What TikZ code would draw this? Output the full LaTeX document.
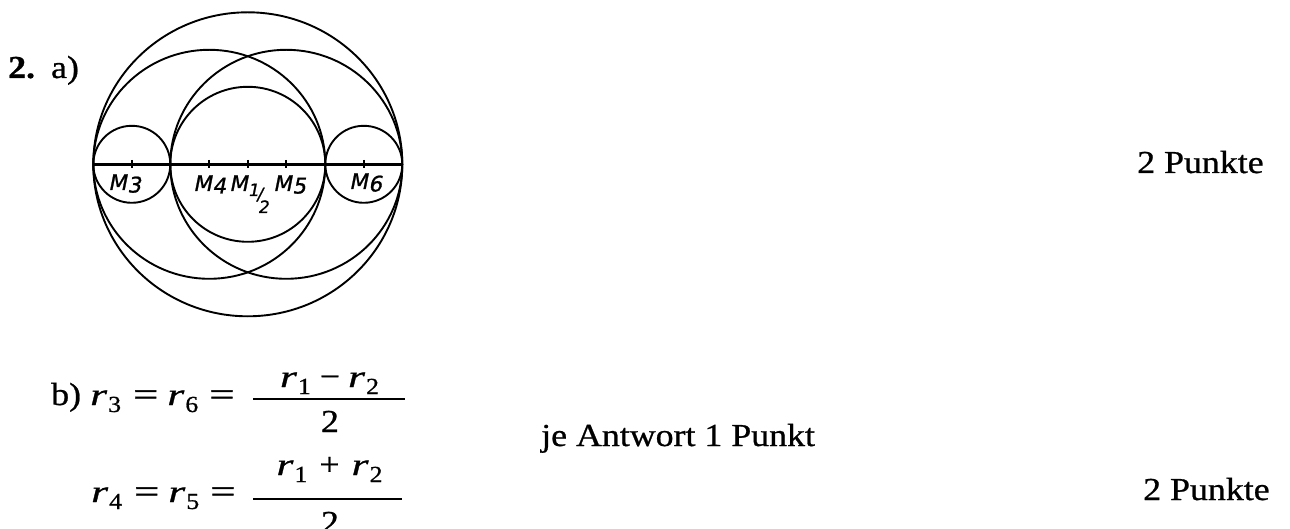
\documentclass[tikz,border=0pt]{standalone}
\usepackage{fontspec}
\usepackage{graphicx}
\setmainfont{Liberation Serif}[FakeStretch=1.12,FakeBold=0.8]
\newfontfamily\labfont{DejaVu Sans}[FakeSlant=0.2,FakeBold=1]
\newcommand\rv[1]{{\fontsize{31}{31}\selectfont\scalebox{1.25}[1]{\textit{r}}}\kern1pt\raisebox{-7pt}{\fontsize{23}{23}\selectfont #1}}
\newcommand\eqs{\scalebox{1.25}[1]{=}}
\newcommand\Mlab[1]{M\kern0.5pt\raisebox{-2.5pt}{#1}}
\tikzset{
  geo/.style={line width=1.9pt},
  axisline/.style={line width=2.9pt},
  tickline/.style={line width=1.8pt},
  fracbar/.style={line width=1.5pt},
  txt/.style={inner sep=0pt, anchor=base west, font=\fontsize{32}{38}\selectfont},
  lab/.style={inner sep=0pt, anchor=base west, font=\labfont\fontsize{21.5}{24}\selectfont}
}
\begin{document}
\begin{tikzpicture}[x=1pt,y=-1pt]
\useasboundingbox (0,0) rectangle (1290,529);
% centres
\coordinate (O)  at (247.8,164.3);
\coordinate (M3) at (131.8,164.3);
\coordinate (M4) at (209.3,164.3);
\coordinate (M5) at (286.3,164.3);
\coordinate (M6) at (363.8,164.3);
\coordinate (L)  at (93.3,164.3);
\coordinate (R)  at (402.3,164.3);
% circles
\draw[geo] (O) ellipse [x radius=154.5pt, y radius=152pt];
\draw[geo] (O) circle [radius=77.5pt];
\draw[geo] (M3) circle [radius=38.5pt];
\draw[geo] (M6) circle [radius=38.5pt];
\draw[geo] (M4) ellipse [x radius=116pt, y radius=114.5pt];
\draw[geo] (M5) ellipse [x radius=116pt, y radius=114.5pt];
% axis and ticks
\draw[axisline] (L) -- (R);
\foreach \p in {M3,M4,O,M5,M6} \draw[tickline] (\p) ++(0,-4.5) -- ++(0,8);
% labels
\node[lab] (l3) at (108,190) {\Mlab{3}};
\node[lab] (l4) at (193,191) {\Mlab{4}};
\node[lab] (l12) at (229,191) {M\kern0pt{\fontsize{17}{17}\selectfont\raisebox{-5pt}{1}\kern-2pt\raisebox{-9pt}{/}\kern-4.5pt\raisebox{-22pt}{2}}};
\node[lab] (l5) at (273,191) {\Mlab{5}};
\node[lab] (l6) at (349,189) {\Mlab{6}};
% texts
\node[txt] (head) at (8,78) {\textbf{2.}\hspace{16pt}a)};
\node[txt] (pa) at (1137,173) {2 Punkte};
\node[txt] (pb) at (1143,500) {2 Punkte};
\node[txt] (je) at (541,446) {je Antwort 1 Punkt};
% formula b
\node[txt] (b) at (51,405) {b)};
\node[txt] (e1) at (90,405) {\rv{3}\hspace{12pt}\eqs\hspace{9pt}\rv{6}\hspace{11pt}\eqs};
\node[txt, anchor=base] (n1) at (329.5,387) {\rv{1}\hspace{9pt}−\hspace{8pt}\rv{2}};
\coordinate (f1l) at (253,399);
\coordinate (f1r) at (405,399);
\draw[fracbar] (f1l) -- (f1r);
\node[txt, anchor=base] (d1) at (330,432) {2};
\node[txt] (e2) at (91,502) {\rv{4}\hspace{12pt}\eqs\hspace{9pt}\rv{5}\hspace{11pt}\eqs};
\node[txt, anchor=base] (n2) at (329.5,475) {\rv{1}\hspace{12pt}+\hspace{12pt}\rv{2}};
\coordinate (f2l) at (253,499);
\coordinate (f2r) at (402,499);
\draw[fracbar] (f2l) -- (f2r);
\node[txt, anchor=base] (d2) at (330,533) {2};
\end{tikzpicture}
\end{document}
